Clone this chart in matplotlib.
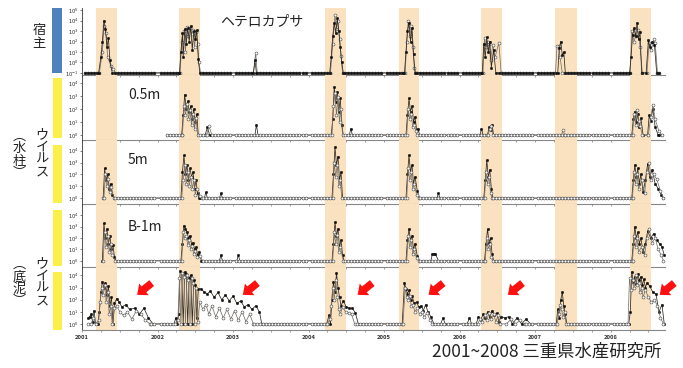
import numpy as np
import matplotlib
matplotlib.use("Agg")
import matplotlib.pyplot as plt
from matplotlib.patches import Rectangle
from matplotlib.ticker import MultipleLocator

plt.rcParams["font.family"] = ["Noto Sans CJK JP", "DejaVu Sans"]

# sampling dates (decimal year) shared by every station
SURVEY_DATES = [
    2001.04, 2001.08, 2001.12, 2001.16, 2001.20, 2001.24, 2001.28, 2001.32, 2001.36, 2001.40, 2001.44, 2001.48,
    2001.52, 2001.56, 2001.60, 2001.64, 2001.68, 2001.72, 2001.76, 2001.80, 2001.84, 2001.88, 2001.92, 2001.96,
    2002.04, 2002.08, 2002.12, 2002.16, 2002.20, 2002.24, 2002.28, 2002.32, 2002.36, 2002.40, 2002.44, 2002.48,
    2002.52, 2002.56, 2002.60, 2002.64, 2002.68, 2002.72, 2002.76, 2002.80, 2002.84, 2002.88, 2002.92, 2002.96,
    2003.04, 2003.08, 2003.12, 2003.16, 2003.20, 2003.24, 2003.28, 2003.32, 2003.36, 2003.40, 2003.44, 2003.48,
    2003.52, 2003.56, 2003.60, 2003.64, 2003.68, 2003.72, 2003.76, 2003.80, 2003.84, 2003.88, 2003.92, 2003.96,
    2004.04, 2004.08, 2004.12, 2004.16, 2004.20, 2004.24, 2004.28, 2004.32, 2004.36, 2004.40, 2004.44, 2004.48,
    2004.52, 2004.56, 2004.60, 2004.64, 2004.68, 2004.72, 2004.76, 2004.80, 2004.84, 2004.88, 2004.92, 2004.96,
    2005.04, 2005.08, 2005.12, 2005.16, 2005.20, 2005.24, 2005.28, 2005.32, 2005.36, 2005.40, 2005.44, 2005.48,
    2005.52, 2005.56, 2005.60, 2005.64, 2005.68, 2005.72, 2005.76, 2005.80, 2005.84, 2005.88, 2005.92, 2005.96,
    2006.04, 2006.08, 2006.12, 2006.16, 2006.20, 2006.24, 2006.28, 2006.32, 2006.36, 2006.40, 2006.44, 2006.48,
    2006.52, 2006.56, 2006.60, 2006.64, 2006.68, 2006.72, 2006.76, 2006.80, 2006.84, 2006.88, 2006.92, 2006.96,
    2007.04, 2007.08, 2007.12, 2007.16, 2007.20, 2007.24, 2007.28, 2007.32, 2007.36, 2007.40, 2007.44, 2007.48,
    2007.52, 2007.56, 2007.60, 2007.64, 2007.68, 2007.72, 2007.76, 2007.80, 2007.84, 2007.88, 2007.92, 2007.96,
    2008.04, 2008.08, 2008.12, 2008.16, 2008.20, 2008.24, 2008.28, 2008.32, 2008.36, 2008.40, 2008.44, 2008.48,
    2008.52, 2008.56, 2008.60, 2008.64, 2008.68,
]

# bloom seasons (shaded)
BLOOMS = [(2001.185, 2001.46), (2002.29, 2002.56), (2004.22, 2004.49), (2005.20, 2005.46),
          (2006.28, 2006.56), (2007.27, 2007.55), (2008.25, 2008.53)]
YEARS = [2001, 2002, 2003, 2004, 2005, 2006, 2007, 2008]

# values are log10 of density; each list = bloom segments of (date, log10 value)
HOST_FILLED = [
    [(2001.22, -1), (2001.25, 0.5), (2001.27, 2.0), (2001.29, 4.0), (2001.31, 3.2), (2001.33, 1.5), (2001.35, 2.3), (2001.37, 0.2), (2001.40, -1)],
    [(2002.29, -1), (2002.31, 1.0), (2002.33, 2.8), (2002.34, 0.5), (2002.36, 3.2), (2002.38, 1.8), (2002.40, 3.3), (2002.42, 2.0), (2002.44, 3.5),
     (2002.46, 1.2), (2002.48, 3.0), (2002.50, 2.2), (2002.52, 3.1), (2002.54, 0.3), (2002.56, -1)],
    [(2003.27, -1), (2003.29, 0.2), (2003.31, -1)],
    [(2004.28, -1), (2004.30, 0.5), (2004.32, 2.5), (2004.34, 3.8), (2004.36, 2.8), (2004.38, 4.2), (2004.40, 3.0), (2004.42, 1.5), (2004.44, 0.0), (2004.46, -1)],
    [(2005.27, -1), (2005.29, 1.0), (2005.31, 3.0), (2005.33, 3.8), (2005.35, 2.0), (2005.37, 3.3), (2005.39, 0.8), (2005.41, -1)],
    [(2006.30, -1), (2006.32, 1.8), (2006.34, 0.5), (2006.36, 2.4), (2006.38, 1.0), (2006.40, 2.0), (2006.42, -0.5), (2006.45, 1.2), (2006.48, -1)],
    [(2007.30, -1), (2007.32, 1.4), (2007.34, 2.0), (2007.36, 0.7), (2007.38, 1.0), (2007.40, -1)],
    [(2008.25, -1), (2008.27, 0.5), (2008.29, 2.6), (2008.31, 3.3), (2008.33, 2.5), (2008.35, 3.8), (2008.37, 2.2), (2008.39, 2.9), (2008.41, -1),
     (2008.47, -1), (2008.50, 2.1), (2008.52, 1.5), (2008.55, 2.0), (2008.58, 1.7), (2008.61, -1)],
]
HOST_OPEN = [
    [(2001.23, -1), (2001.27, 1.0), (2001.29, 3.5), (2001.32, 2.8), (2001.34, 0.5), (2001.38, -0.3), (2001.41, -0.6), (2001.44, -1)],
    [(2002.30, -1), (2002.32, 2.0), (2002.35, 3.0), (2002.37, 1.0), (2002.39, 3.4), (2002.41, 2.5), (2002.43, 3.3), (2002.45, 2.7), (2002.47, 3.1),
     (2002.49, 1.5), (2002.51, 2.9), (2002.53, 1.8), (2002.55, 0.0), (2002.57, -1)],
    [(2003.27, -1), (2003.30, 0.9), (2003.32, -1)],
    [(2004.29, -1), (2004.32, 1.8), (2004.35, 4.5), (2004.37, 3.2), (2004.39, 4.0), (2004.41, 2.2), (2004.43, 0.6), (2004.45, -1)],
    [(2005.28, -1), (2005.30, 2.0), (2005.32, 4.0), (2005.34, 2.5), (2005.36, 3.5), (2005.38, 1.5), (2005.40, -0.5), (2005.42, -1)],
    [(2006.31, -1), (2006.33, 2.3), (2006.35, 1.5), (2006.37, 2.0), (2006.39, 1.8), (2006.41, 0.2), (2006.44, 1.7), (2006.47, 0.5), (2006.52, 1.9), (2006.55, -1)],
    [(2007.27, -1), (2007.29, 1.6), (2007.31, 1.6), (2007.33, 0.5), (2007.36, -1)],
    [(2008.26, -1), (2008.28, 3.0), (2008.31, 2.0), (2008.33, 2.5), (2008.36, 3.1), (2008.39, 1.5), (2008.42, -1),
     (2008.48, -1), (2008.51, 1.9), (2008.54, 1.2), (2008.57, 2.2), (2008.59, 1.9), (2008.62, -1)],
]

V05_FILLED = [
    [(2002.32, 0), (2002.34, 1.5), (2002.36, 3.1), (2002.38, 2.0), (2002.40, 2.6), (2002.42, 1.8), (2002.44, 2.2), (2002.46, 1.2), (2002.48, 2.0),
     (2002.50, 1.0), (2002.52, 1.6), (2002.54, 0)],
    [(2002.63, 0), (2002.66, 0.6), (2002.69, 0)],
    [(2003.29, 0), (2003.31, 0.8), (2003.33, 0)],
    [(2004.30, 0), (2004.32, 1.2), (2004.34, 3.7), (2004.36, 2.5), (2004.38, 3.3), (2004.40, 1.8), (2004.42, 2.8), (2004.44, 0.8), (2004.46, 0)],
    [(2004.54, 0), (2004.56, 0.5), (2004.58, 0)],
    [(2005.29, 0), (2005.31, 1.5), (2005.33, 2.8), (2005.35, 1.8), (2005.37, 2.2), (2005.39, 1.0), (2005.41, 1.4), (2005.43, 0.4), (2005.45, 0.5), (2005.47, 0)],
    [(2006.27, 0), (2006.29, 0.5), (2006.31, 0)],
    [(2006.37, 0), (2006.39, 0.6), (2006.41, 0.4), (2006.43, 0.8), (2006.45, 0)],
    [(2008.28, 0), (2008.30, 1.2), (2008.32, 1.8), (2008.34, 1.0), (2008.36, 1.6), (2008.38, 0.6), (2008.40, 1.3), (2008.43, 0),
     (2008.49, 0), (2008.51, 1.5), (2008.53, 1.1), (2008.56, 2.0), (2008.59, 0.6), (2008.63, 0)],
]
V05_OPEN = [
    [(2002.33, 0), (2002.35, 2.2), (2002.37, 1.5), (2002.39, 2.4), (2002.41, 1.2), (2002.43, 1.9), (2002.45, 0.8), (2002.47, 1.6), (2002.49, 0.5),
     (2002.51, 1.3), (2002.53, 0)],
    [(2002.65, 0), (2002.68, 0.7), (2002.72, 0)],
    [(2004.31, 0), (2004.33, 2.2), (2004.35, 3.2), (2004.37, 1.5), (2004.39, 2.9), (2004.41, 1.0), (2004.43, 2.0), (2004.45, 0)],
    [(2005.30, 0), (2005.32, 2.0), (2005.34, 1.2), (2005.36, 1.6), (2005.38, 0.6), (2005.40, 0.8), (2005.42, 0.3), (2005.44, 0)],
    [(2006.38, 0), (2006.40, 0.5), (2006.42, 0.7), (2006.44, 0)],
    [(2007.35, 0), (2007.37, 0.4), (2007.39, 0)],
    [(2008.29, 0), (2008.31, 1.6), (2008.33, 0.8), (2008.35, 1.9), (2008.37, 1.1), (2008.39, 0.7), (2008.42, 0),
     (2008.50, 0), (2008.53, 1.4), (2008.56, 2.3), (2008.59, 1.2), (2008.64, 0.3), (2008.68, 0)],
]

V5_FILLED = [
    [(2001.28, 0), (2001.30, 2.5), (2001.32, 1.5), (2001.34, 2.0), (2001.36, 0.8), (2001.38, 1.2), (2001.40, 0.3), (2001.43, 0)],
    [(2002.31, 0), (2002.33, 2.2), (2002.35, 3.6), (2002.37, 2.0), (2002.39, 2.8), (2002.41, 1.5), (2002.43, 2.5), (2002.45, 1.8), (2002.47, 2.2),
     (2002.49, 0.8), (2002.51, 1.5), (2002.53, 0.4), (2002.55, 0)],
    [(2002.62, 0), (2002.64, 0.5), (2002.66, 0)],
    [(2002.82, 0), (2002.84, 0.4), (2002.86, 0)],
    [(2004.31, 0), (2004.33, 2.0), (2004.35, 4.3), (2004.37, 2.8), (2004.39, 3.5), (2004.41, 1.5), (2004.43, 2.2), (2004.45, 0)],
    [(2005.29, 0), (2005.31, 2.0), (2005.33, 3.6), (2005.35, 2.2), (2005.37, 2.8), (2005.39, 1.2), (2005.41, 1.8), (2005.44, 0.6), (2005.47, 0)],
    [(2005.70, 0), (2005.72, 0.4), (2005.74, 0)],
    [(2006.32, 0), (2006.34, 1.5), (2006.36, 3.2), (2006.38, 1.8), (2006.40, 2.4), (2006.42, 0.8), (2006.44, 0)],
    [(2008.28, 0), (2008.30, 1.5), (2008.32, 2.8), (2008.34, 1.8), (2008.36, 2.5), (2008.38, 1.2), (2008.40, 2.0), (2008.43, 0.5), (2008.46, 1.5),
     (2008.49, 2.9), (2008.52, 1.8), (2008.55, 2.4), (2008.59, 1.2), (2008.63, 0.8), (2008.67, 0.3), (2008.70, 0)],
]
V5_OPEN = [
    [(2001.29, 0), (2001.31, 2.0), (2001.33, 1.0), (2001.35, 1.6), (2001.37, 0.5), (2001.39, 0.9), (2001.42, 0)],
    [(2002.32, 0), (2002.34, 1.5), (2002.36, 2.8), (2002.38, 1.2), (2002.40, 2.2), (2002.42, 1.0), (2002.44, 1.8), (2002.46, 0.8), (2002.48, 1.5),
     (2002.50, 0.3), (2002.52, 0.8), (2002.56, 0.2), (2002.59, 0)],
    [(2004.32, 0), (2004.34, 3.0), (2004.36, 1.8), (2004.38, 2.8), (2004.40, 1.0), (2004.42, 1.5), (2004.44, 0)],
    [(2005.30, 0), (2005.32, 2.5), (2005.34, 1.5), (2005.36, 2.2), (2005.38, 0.8), (2005.40, 1.2), (2005.43, 0.3), (2005.46, 0)],
    [(2006.33, 0), (2006.35, 2.2), (2006.37, 1.2), (2006.39, 1.8), (2006.41, 0.4), (2006.43, 0)],
    [(2008.29, 0), (2008.31, 2.2), (2008.33, 1.2), (2008.35, 2.0), (2008.37, 0.8), (2008.41, 1.5), (2008.45, 0.4), (2008.48, 2.2), (2008.51, 3.0),
     (2008.54, 1.5), (2008.57, 2.0), (2008.61, 1.6), (2008.66, 0.6), (2008.70, 0)],
]

VB_FILLED = [
    [(2001.27, 0), (2001.29, 3.3), (2001.31, 2.0), (2001.33, 2.8), (2001.35, 1.5), (2001.37, 2.2), (2001.39, 1.0), (2001.41, 1.4), (2001.43, 0.3), (2001.45, 0)],
    [(2002.31, 0), (2002.33, 1.5), (2002.35, 3.1), (2002.37, 2.8), (2002.39, 2.5), (2002.41, 2.0), (2002.43, 2.2), (2002.45, 1.5), (2002.47, 1.6),
     (2002.49, 1.0), (2002.51, 1.2), (2002.53, 0.5), (2002.55, 0.8), (2002.58, 0)],
    [(2002.82, 0), (2002.84, 0.5), (2002.86, 0)],
    [(2003.05, 0), (2003.07, 0.5), (2003.09, 0)],
    [(2004.31, 0), (2004.33, 1.5), (2004.35, 3.4), (2004.37, 2.2), (2004.39, 2.8), (2004.41, 1.2), (2004.43, 1.8), (2004.45, 0.5), (2004.47, 0)],
    [(2005.29, 0), (2005.31, 1.8), (2005.33, 2.8), (2005.35, 1.8), (2005.37, 2.2), (2005.39, 1.0), (2005.41, 1.5), (2005.44, 0.4), (2005.47, 0)],
    [(2005.62, 0), (2005.64, 0.6), (2005.66, 0.6), (2005.68, 0.6), (2005.72, 0)],
    [(2006.33, 0), (2006.35, 1.5), (2006.37, 2.8), (2006.39, 1.6), (2006.41, 2.0), (2006.43, 0.6), (2006.45, 0)],
    [(2008.28, 0), (2008.30, 1.5), (2008.32, 3.0), (2008.34, 2.0), (2008.36, 2.5), (2008.38, 1.5), (2008.40, 2.0), (2008.43, 0.8), (2008.46, 1.5),
     (2008.49, 2.6), (2008.53, 2.0), (2008.57, 2.4), (2008.61, 1.8), (2008.65, 1.5), (2008.68, 1.2), (2008.71, 0.5)],
]
VB_OPEN = [
    [(2001.28, 0), (2001.30, 2.5), (2001.32, 1.2), (2001.34, 2.2), (2001.36, 0.8), (2001.38, 1.5), (2001.40, 0.5), (2001.44, 0)],
    [(2002.32, 0), (2002.34, 2.5), (2002.36, 2.0), (2002.38, 2.2), (2002.40, 1.4), (2002.42, 1.8), (2002.44, 1.0), (2002.46, 1.3), (2002.48, 0.6),
     (2002.50, 0.9), (2002.52, 0.3), (2002.56, 0.4), (2002.60, 0)],
    [(2004.32, 0), (2004.34, 2.5), (2004.36, 1.5), (2004.38, 2.3), (2004.40, 0.8), (2004.42, 1.2), (2004.46, 0)],
    [(2005.30, 0), (2005.32, 2.2), (2005.34, 1.2), (2005.36, 1.8), (2005.38, 0.6), (2005.40, 1.0), (2005.43, 0.2), (2005.46, 0)],
    [(2006.34, 0), (2006.36, 2.0), (2006.38, 1.0), (2006.40, 1.5), (2006.42, 0.3), (2006.44, 0)],
    [(2008.29, 0), (2008.31, 2.2), (2008.33, 1.2), (2008.35, 2.0), (2008.37, 0.8), (2008.41, 1.2), (2008.45, 0.5), (2008.48, 2.0), (2008.51, 2.8),
     (2008.55, 1.6), (2008.59, 2.0), (2008.63, 1.0), (2008.67, 0.5), (2008.70, 0)],
]

SED_FILLED = [
    [(2001.08, 0.5), (2001.10, 0.6), (2001.12, 0.8), (2001.14, 0.2), (2001.16, 1.1), (2001.18, 0.0), (2001.21, 0.0), (2001.23, 1.0), (2001.25, 2.6),
     (2001.27, 3.5), (2001.29, 3.0), (2001.31, 3.4), (2001.33, 2.4), (2001.35, 3.1), (2001.37, 1.5), (2001.39, 2.2), (2001.41, 0.0), (2001.43, 1.7),
     (2001.46, 2.1), (2001.49, 1.8), (2001.53, 1.4), (2001.58, 1.6), (2001.63, 1.2), (2001.70, 1.3), (2001.76, 0.8), (2001.82, 1.3), (2001.88, 0.5),
     (2001.94, 0.0)],
    [(2002.22, 0), (2002.24, 0.5), (2002.26, 0), (2002.28, 0.8), (2002.30, 4.4), (2002.32, 4.2), (2002.34, 0.0), (2002.36, 4.3), (2002.38, 4.1),
     (2002.40, 0.0), (2002.42, 3.8), (2002.44, 4.0), (2002.46, 0.0), (2002.48, 3.6), (2002.50, 3.2), (2002.52, 0.5), (2002.54, 2.9), (2002.58, 2.9),
     (2002.62, 2.6), (2002.66, 2.5), (2002.70, 2.7), (2002.75, 2.2), (2002.80, 2.6), (2002.85, 2.0), (2002.90, 2.4), (2002.95, 1.9), (2003.00, 2.3),
     (2003.05, 1.7), (2003.10, 1.9), (2003.15, 1.4), (2003.20, 1.6), (2003.25, 1.2), (2003.30, 1.5), (2003.35, 1.0), (2003.38, 0)],
    [(2004.24, 0), (2004.27, 0.7), (2004.29, 0), (2004.31, 2.0), (2004.33, 3.5), (2004.35, 2.6), (2004.37, 4.2), (2004.39, 3.0), (2004.41, 2.2),
     (2004.43, 1.5), (2004.46, 1.9), (2004.50, 1.4), (2004.54, 1.3), (2004.58, 1.3), (2004.62, 0.9), (2004.66, 0)],
    [(2005.24, 0), (2005.27, 3.4), (2005.29, 2.9), (2005.31, 2.5), (2005.33, 2.8), (2005.35, 2.0), (2005.37, 2.3), (2005.40, 1.7), (2005.43, 1.8),
     (2005.46, 1.4), (2005.49, 1.5), (2005.52, 1.1), (2005.55, 1.6), (2005.58, 1.0), (2005.62, 0.6), (2005.66, 0)],
    [(2005.75, 0), (2005.78, 0.5), (2005.81, 0)],
    [(2006.10, 0), (2006.13, 0.5), (2006.16, 0)],
    [(2006.22, 0), (2006.25, 0.6), (2006.28, 0.3), (2006.31, 0.8), (2006.34, 0.5), (2006.37, 1.0), (2006.40, 0.6), (2006.43, 1.1), (2006.46, 0.7),
     (2006.49, 0.9), (2006.52, 0.2), (2006.55, 0.6), (2006.60, 0.5), (2006.65, 0.6), (2006.70, 0.0), (2006.76, 0.5), (2006.82, 0.0), (2006.88, 0.4),
     (2006.94, 0.0)],
    [(2007.28, 0), (2007.30, 1.2), (2007.32, 0.5), (2007.34, 2.0), (2007.36, 2.6), (2007.38, 1.5), (2007.40, 0.8), (2007.42, 0)],
    [(2008.24, 0), (2008.26, 1.0), (2008.28, 4.3), (2008.30, 3.5), (2008.32, 3.9), (2008.34, 3.3), (2008.36, 4.1), (2008.38, 3.6), (2008.40, 3.9),
     (2008.42, 3.2), (2008.44, 3.7), (2008.46, 3.0), (2008.48, 3.4), (2008.52, 3.1), (2008.56, 2.6), (2008.60, 2.5), (2008.64, 1.0), (2008.68, 1.6),
     (2008.71, 0)],
]
SED_OPEN = [
    [(2001.08, 0), (2001.12, 0.0), (2001.15, 0.5), (2001.18, 0), (2001.22, 0.3), (2001.24, 1.8), (2001.26, 3.0), (2001.28, 2.4), (2001.30, 3.2),
     (2001.32, 1.8), (2001.34, 2.6), (2001.36, 0.8), (2001.38, 1.5), (2001.40, 0.0), (2001.43, 1.3), (2001.46, 1.5), (2001.50, 1.0), (2001.55, 0.7),
     (2001.60, 1.0), (2001.66, 0.4), (2001.72, 1.1), (2001.78, 0.8), (2001.84, 0.3), (2001.90, 0.0)],
    [(2002.23, 0), (2002.27, 0.3), (2002.29, 3.8), (2002.31, 0.0), (2002.33, 4.2), (2002.35, 3.9), (2002.37, 0.0), (2002.39, 4.0), (2002.41, 3.6),
     (2002.43, 0.0), (2002.45, 3.8), (2002.47, 3.4), (2002.49, 0.0), (2002.51, 3.0), (2002.53, 0.2), (2002.56, 1.8), (2002.60, 1.2), (2002.64, 1.6),
     (2002.68, 0.8), (2002.72, 1.5), (2002.77, 0.6), (2002.82, 1.3), (2002.87, 0.5), (2002.92, 1.2), (2002.97, 0.4), (2003.02, 1.1), (2003.07, 0.3),
     (2003.12, 1.0), (2003.17, 0.2), (2003.22, 0.8), (2003.27, 0.0)],
    [(2004.25, 0), (2004.28, 0.4), (2004.30, 1.5), (2004.32, 3.0), (2004.34, 2.0), (2004.36, 3.6), (2004.38, 2.2), (2004.40, 1.2), (2004.42, 0.8),
     (2004.45, 1.4), (2004.49, 1.0), (2004.53, 0.9), (2004.57, 0.8), (2004.61, 0)],
    [(2005.25, 0), (2005.28, 3.0), (2005.30, 2.2), (2005.32, 2.0), (2005.34, 2.3), (2005.36, 1.5), (2005.38, 1.6), (2005.41, 1.0), (2005.44, 1.3),
     (2005.47, 0.8), (2005.50, 1.0), (2005.53, 0.6), (2005.57, 0.9), (2005.61, 0.3), (2005.64, 0)],
    [(2006.24, 0), (2006.27, 0.4), (2006.30, 0.2), (2006.33, 0.7), (2006.36, 0.3), (2006.39, 0.9), (2006.42, 0.4), (2006.45, 0.8), (2006.48, 0.2),
     (2006.51, 0.7), (2006.54, 0.0), (2006.62, 0.0), (2006.68, 0.4), (2006.74, 0.0), (2006.80, 0.3), (2006.86, 0.0)],
    [(2007.29, 0), (2007.31, 0.8), (2007.33, 1.6), (2007.35, 1.2), (2007.37, 0.6), (2007.39, 1.0), (2007.41, 0)],
    [(2008.23, 0), (2008.25, 3.8), (2008.27, 2.8), (2008.29, 3.6), (2008.31, 3.0), (2008.33, 4.0), (2008.35, 3.2), (2008.37, 3.4), (2008.39, 2.6),
     (2008.41, 3.0), (2008.43, 2.2), (2008.46, 2.8), (2008.50, 2.2), (2008.54, 1.8), (2008.58, 2.0), (2008.62, 1.5), (2008.66, 0.5), (2008.70, 0)],
]

# heads of the red arrows in the sediment panel (year, log10)
ARROW_YEARS = [2001.73, 2003.13, 2004.65, 2005.59, 2006.64, 2008.65]
ARROW_LEVEL = 2.4

INK = "#222222"
BAND = "#FAE2C0"
W, H = 683, 368


def build(segments, start, end, floor):
    pts = [p for seg in segments for p in seg]
    windows = [(seg[0][0], seg[-1][0]) for seg in segments]
    for d in SURVEY_DATES:
        if start <= d <= end and not any(a <= d <= b for a, b in windows):
            pts.append((d, floor))
    pts.sort()
    return np.array(pts).T


# (filled series, open series, start, end, floor, ylim, yticks, px top, px bottom, open on top)
panels = [
    (HOST_FILLED, HOST_OPEN, 2001.04, 2008.66, -1, (-1.2, 5.2), range(-1, 6), 8, 75, False),
    (V05_FILLED, V05_OPEN, 2002.12, 2008.70, 0, (-0.38, 4.6), range(0, 5), 75, 140, True),
    (V5_FILLED, V5_OPEN, 2001.28, 2008.70, 0, (-0.5, 4.9), range(0, 5), 140, 204, True),
    (VB_FILLED, VB_OPEN, 2001.27, 2008.71, 0, (-0.55, 5.0), range(0, 5), 204, 267, True),
    (SED_FILLED, SED_OPEN, 2001.08, 2008.71, 0, (-0.5, 4.7), range(0, 5), 267, 330, True),
]

fig = plt.figure(figsize=(W / 100, H / 100), dpi=100, facecolor="white")
axes = []
for filled, opened, start, end, floor, ylim, yt, top, bot, open_top in panels:
    ax = fig.add_axes([82 / W, 1 - bot / H, (665 - 82) / W, (bot - top) / H])
    ax.set_facecolor("none")
    for a, b in BLOOMS:
        ax.axvspan(a, b, color=BAND, lw=0, zorder=0)
    xf, yf = build(filled, start, end, floor)
    xo, yo = build(opened, start, end, floor)
    ax.plot(xf, yf, color="#2e2820", lw=0.55, marker="o", ms=1.8, mfc="#111111", mec="#111111",
            mew=0.3, zorder=3)
    ax.plot(xo, yo, color="#77726b", lw=0.55, marker="o", ms=2.1, mfc="white", mec="#555555",
            mew=0.45, zorder=4 if open_top else 2)
    ax.set_xlim(2001.0, 2008.72)
    ax.set_ylim(*ylim)
    ax.set_yticks(list(yt))
    ax.set_yticklabels([f"$10^{{{v}}}$" for v in yt])
    ax.set_xticks(YEARS)
    ax.xaxis.set_minor_locator(MultipleLocator(0.25))
    ax.tick_params(axis="y", labelsize=3.6, length=1.5, width=0.4, pad=1, colors=INK)
    ax.tick_params(axis="x", which="both", length=1.5, width=0.4, colors="#555555", labelbottom=False)
    for s in ("top", "right"):
        ax.spines[s].set_visible(False)
    ax.spines["left"].set_color("#333333")
    ax.spines["left"].set_linewidth(0.6)
    ax.spines["bottom"].set_color("#888888")
    ax.spines["bottom"].set_linewidth(0.8)
    axes.append(ax)

ax5 = axes[-1]
ax5.tick_params(axis="x", labelbottom=True, labelsize=4.2, pad=2)
ax5.set_xticklabels([str(y) for y in YEARS], fontweight="bold", color="#333333")

for xa in ARROW_YEARS:
    ax5.annotate("", xy=(xa, ARROW_LEVEL), xytext=(10.5, 8.5), textcoords="offset points",
                 arrowprops=dict(arrowstyle="simple,head_length=0.7,head_width=1.2,tail_width=0.6",
                                 fc="#FF1010", ec="none", mutation_scale=9, shrinkA=0, shrinkB=0),
                 annotation_clip=False, zorder=6)

# coloured side bars
fig.add_artist(Rectangle((52 / W, 1 - 73 / H), 10 / W, 65 / H, transform=fig.transFigure,
                         color="#4F81BD", lw=0))
for top, bot in [(78, 138), (145, 203), (210, 266), (272, 330)]:
    fig.add_artist(Rectangle((53 / W, 1 - bot / H), 9 / W, (bot - top) / H, transform=fig.transFigure,
                             color="#FAF04A", lw=0))

vkw = dict(ha="center", va="center", fontsize=9.5, linespacing=0.95, color=INK)
fig.text(39 / W, 1 - 37 / H, "宿\n主", **vkw)
fig.text(42 / W, 1 - 153 / H, "ウ\nイ\nル\nス", **vkw)
fig.text(19 / W, 1 - 155 / H, "︵\n水\n柱\n︶", **vkw)
fig.text(42 / W, 1 - 282 / H, "ウ\nイ\nル\nス", **vkw)
fig.text(19 / W, 1 - 283 / H, "︵\n底\n泥\n︶", **vkw)

fig.text(262 / W, 1 - 21 / H, "ヘテロカプサ", ha="center", va="center", fontsize=10, color=INK)
fig.text(128 / W, 1 - 95 / H, "0.5m", ha="left", va="center", fontsize=10, color=INK)
fig.text(128 / W, 1 - 160 / H, "5m", ha="left", va="center", fontsize=10, color=INK)
fig.text(128 / W, 1 - 227 / H, "B-1m", ha="left", va="center", fontsize=10, color=INK)
fig.text(432 / W, 1 - 352 / H, "2001~2008 三重県水産研究所", ha="left", va="center", fontsize=12.5, color=INK)

fig.savefig("out.png", dpi=100, facecolor="white")
